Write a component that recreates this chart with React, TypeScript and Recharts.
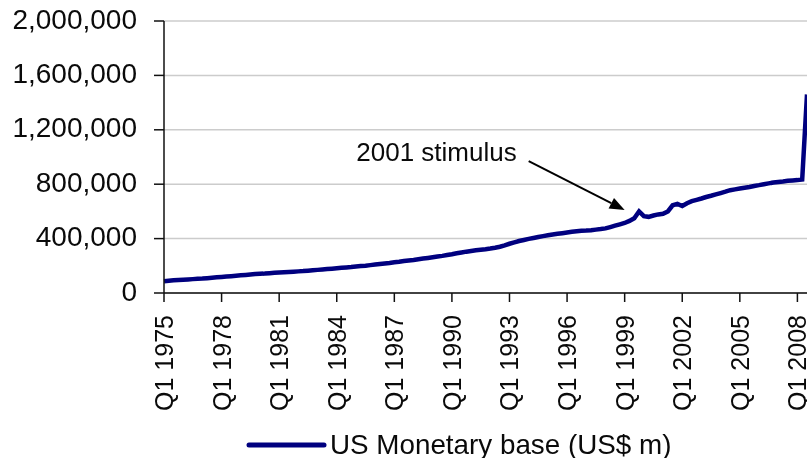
import React from 'react';
import { LineChart, Line, XAxis, YAxis, CartesianGrid, Legend, ReferenceLine } from 'recharts';

const years = [
  1975, 1976, 1977, 1978, 1979, 1980, 1981, 1982, 1983, 1984, 1985, 1986,
  1987, 1988, 1989, 1990, 1991, 1992, 1993, 1994, 1995, 1996, 1997, 1998,
  1999, 2000, 2001, 2002, 2003, 2004, 2005, 2006, 2007, 2008,
];
const quarterNames = ['Q1', 'Q2', 'Q3', 'Q4'];

// US monetary base, US$ m, one value per quarter (Q1 1975 .. Q3 2008, the last visible one)
const monetaryBase = [
  86000, 90000, 93000, 96000,
  98000, 100000, 102000, 104000,
  106000, 109000, 112000, 115000,
  118000, 121000, 124000, 127000,
  130000, 133000, 136000, 139000,
  141000, 143000, 146000, 149000,
  151000, 153000, 155000, 157000,
  159000, 161000, 164000, 167000,
  170000, 173000, 176000, 179000,
  182000, 185000, 188000, 191000,
  195000, 198000, 201000, 205000,
  209000, 213000, 217000, 221000,
  226000, 230000, 235000, 239000,
  243000, 248000, 253000, 258000,
  263000, 268000, 273000, 279000,
  285000, 292000, 298000, 304000,
  309000, 314000, 318000, 322000,
  327000, 333000, 340000, 350000,
  362000, 372000, 382000, 390000,
  398000, 405000, 412000, 418000,
  424000, 430000, 435000, 440000,
  445000, 450000, 454000, 457000,
  459000, 462000, 466000, 470000,
  475000, 485000, 495000, 505000,
  515000, 530000, 550000, 600000,
  565000, 560000, 570000, 578000,
  582000, 600000, 645000, 655000,
  640000, 660000, 675000, 685000,
  695000, 706000, 715000, 725000,
  735000, 745000, 756000, 762000,
  768000, 774000, 780000, 787000,
  793000, 800000, 806000, 812000,
  816000, 820000, 825000, 828000,
  830000, 835000, 1460000,
];

const yTicks = [0, 400000, 800000, 1200000, 1600000, 2000000];

// annotation arrow: from the label to the point it marks
const arrowFrom = { quarter: 'Q1 1994', value: 970000 };
const arrowTo = { quarter: 'Q1 1999', value: 610000 };
const arrowLabel = '2001 stimulus';
const seriesName = 'US Monetary base (US$ m)';

const quarters = years
  .flatMap((y) => quarterNames.map((q) => `${q} ${y}`))
  .slice(0, monetaryBase.length);
const data = quarters.map((q, i) => ({ quarter: q, base: monetaryBase[i] }));

const FONT = '"Liberation Sans", Arial, sans-serif';
const NAVY = '#00007f';
const INK = '#0a0a0a';

const XTick = (props: any) => {
  const { x, y, payload } = props;
  return (
    <g transform={`translate(${x},${y})`}>
      <text
        transform="rotate(-90)"
        x={-13}
        y={0}
        dy="0.36em"
        textAnchor="end"
        fontSize={25}
        fontFamily={FONT}
        fill={INK}
      >
        {payload.value}
      </text>
    </g>
  );
};

const YTick = (props: any) => {
  const { x, y, payload } = props;
  return (
    <text x={x} y={y} dy="0.27em" textAnchor="end" fontSize={28} fontFamily={FONT} fill={INK}>
      {Number(payload.value).toLocaleString('en-US')}
    </text>
  );
};

const ArrowShape = (props: any) => {
  const { x1, y1, x2, y2 } = props;
  const ang = Math.atan2(y2 - y1, x2 - x1);
  const len = 15;
  const half = 6;
  const bx = x2 - len * Math.cos(ang);
  const by = y2 - len * Math.sin(ang);
  const px = -Math.sin(ang) * half;
  const py = Math.cos(ang) * half;
  return (
    <g>
      <line x1={x1} y1={y1} x2={bx} y2={by} stroke="#000" strokeWidth={2} />
      <polygon points={`${x2},${y2} ${bx + px},${by + py} ${bx - px},${by - py}`} fill="#000" />
      <text x={x1 - 12} y={y1} textAnchor="end" fontSize={26} fontFamily={FONT} fill={INK}>
        {arrowLabel}
      </text>
    </g>
  );
};

const LegendContent = () => (
  <div style={{ width: 799, height: 26, display: 'flex', alignItems: 'center' }}>
    <svg width={82} height={10} style={{ marginLeft: 237 }}>
      <line x1={4} y1={5} x2={79} y2={5} stroke={NAVY} strokeWidth={5} strokeLinecap="round" />
    </svg>
    <span style={{ marginLeft: 3, fontSize: 27.8, fontFamily: FONT, color: INK, lineHeight: '26px' }}>
      {seriesName}
    </span>
  </div>
);

export default function App() {
  // fixed so the chart can run right up to the window's edge
  return (
    <div style={{ position: 'fixed', left: 8, top: 8, width: 799, height: 450, fontFamily: FONT }}>
      <LineChart width={799} height={450} data={data} margin={{ top: 13, right: 0, bottom: 0, left: 0 }}>
        <CartesianGrid vertical={false} stroke="#cccccc" strokeWidth={1.5} />
        <XAxis
          dataKey="quarter"
          interval={11}
          tick={<XTick />}
          tickSize={9}
          tickMargin={0}
          height={139}
          axisLine={{ stroke: '#111', strokeWidth: 1.5 }}
          tickLine={{ stroke: '#111', strokeWidth: 1.5 }}
        />
        <YAxis
          domain={[0, 2000000]}
          ticks={yTicks}
          width={156}
          tick={<YTick />}
          tickSize={10}
          tickMargin={17}
          axisLine={{ stroke: '#111', strokeWidth: 1.5 }}
          tickLine={{ stroke: '#111', strokeWidth: 1.5 }}
        />
        <Legend verticalAlign="bottom" content={<LegendContent />} wrapperStyle={{ left: 0 }} />
        <ReferenceLine
          segment={[
            { x: arrowFrom.quarter, y: arrowFrom.value },
            { x: arrowTo.quarter, y: arrowTo.value },
          ]}
          ifOverflow="visible"
          shape={ArrowShape}
        />
        <Line
          type="linear"
          dataKey="base"
          name={seriesName}
          stroke={NAVY}
          strokeWidth={4.5}
          dot={false}
          isAnimationActive={false}
        />
      </LineChart>
    </div>
  );
}
